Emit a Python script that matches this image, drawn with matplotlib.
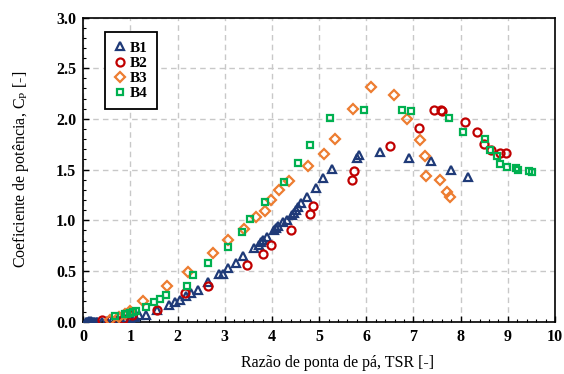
import matplotlib
matplotlib.use("Agg")
import matplotlib.pyplot as plt
from matplotlib.ticker import MultipleLocator

plt.rcParams['font.family'] = ['Liberation Serif', 'DejaVu Serif']
plt.rcParams['mathtext.fontset'] = 'custom'
plt.rcParams['mathtext.rm'] = 'Liberation Serif'

# ---- data ----
b1_x = [0.06, 0.08, 0.10, 0.12, 0.14, 0.15, 0.17, 0.18, 0.20, 0.22, 0.25, 0.28, 0.30, 0.40, 0.50,
        0.60, 0.70, 0.80, 0.90, 1.00, 1.10,
        1.18, 1.33, 1.56, 1.81, 1.94, 2.06, 2.17, 2.29, 2.44, 2.65, 2.88, 2.97, 3.06, 3.23, 3.39,
        3.62, 3.72, 3.77, 3.81, 3.89, 4.04, 4.08, 4.12, 4.23, 4.31, 4.42, 4.46, 4.50, 4.56, 4.61,
        4.74, 4.94, 5.09, 5.27, 5.81, 5.85, 6.30, 6.90, 7.38, 7.80, 8.16]
b1_y = [0.00, 0.00, 0.00, 0.01, 0.00, 0.00, 0.01, 0.00, 0.00, 0.00, 0.00, 0.00, 0.00, 0.00, 0.01,
        0.01, 0.02, 0.02, 0.03, 0.04, 0.05,
        0.07, 0.07, 0.12, 0.16, 0.19, 0.21, 0.25, 0.28, 0.31, 0.39, 0.47, 0.47, 0.53, 0.58, 0.65,
        0.73, 0.76, 0.79, 0.81, 0.84, 0.90, 0.92, 0.94, 0.98, 1.00, 1.05, 1.07, 1.10, 1.13, 1.17,
        1.23, 1.32, 1.42, 1.51, 1.61, 1.64, 1.67, 1.61, 1.58, 1.50, 1.43]

b2_x = [0.40, 0.57, 0.84, 1.03, 1.56, 2.15, 2.65, 3.48, 3.81, 3.98, 4.40, 4.80, 4.88, 5.69, 5.74,
        6.50, 7.11, 7.44, 7.58, 7.61, 8.10, 8.35, 8.50, 8.64, 8.84, 8.96]
b2_y = [0.02, 0.02, 0.03, 0.07, 0.12, 0.28, 0.35, 0.56, 0.67, 0.76, 0.90, 1.06, 1.14, 1.40, 1.49,
        1.73, 1.91, 2.09, 2.09, 2.08, 1.97, 1.87, 1.75, 1.69, 1.66, 1.66]

b3_x = [0.57, 0.76, 0.88, 0.99, 1.27, 1.77, 2.21, 2.76, 3.07, 3.41, 3.67, 3.85, 3.97, 4.15, 4.37,
        4.76, 5.11, 5.34, 5.72, 6.10, 6.58, 6.86, 7.14, 7.24, 7.26, 7.56, 7.72, 7.77]
b3_y = [0.02, 0.05, 0.08, 0.11, 0.20, 0.35, 0.49, 0.68, 0.81, 0.91, 1.03, 1.09, 1.20, 1.30, 1.39,
        1.54, 1.65, 1.80, 2.10, 2.31, 2.24, 2.00, 1.79, 1.63, 1.44, 1.40, 1.28, 1.23]

b4_x = [0.67, 0.88, 0.93, 0.99, 1.05, 1.11, 1.33, 1.49, 1.62, 1.75, 2.20, 2.32, 2.65, 3.06, 3.37,
        3.53, 3.85, 4.25, 4.56, 4.80, 5.22, 5.95, 6.75, 6.95, 7.76, 8.06, 8.51, 8.63, 8.78, 8.84,
        8.98, 9.17, 9.22, 9.44, 9.51]
b4_y = [0.06, 0.08, 0.08, 0.09, 0.10, 0.11, 0.15, 0.19, 0.22, 0.26, 0.35, 0.46, 0.58, 0.74, 0.88,
        1.01, 1.18, 1.38, 1.57, 1.74, 2.01, 2.09, 2.09, 2.08, 2.01, 1.87, 1.80, 1.69, 1.63, 1.56,
        1.53, 1.52, 1.50, 1.49, 1.48]

series = [
    ("B1", b1_x, b1_y, '^', '#1F3A78', 6.2),
    ("B2", b2_x, b2_y, 'o', '#C00000', 5.8),
    ("B3", b3_x, b3_y, 'D', '#ED7D31', 5.0),
    ("B4", b4_x, b4_y, 's', '#00B050', 4.5),
]

fig = plt.figure(figsize=(5.64, 3.74), dpi=100)
ax = fig.add_axes([0.1477, 0.1398, 0.8363, 0.8134])

for name, xs, ys, m, c, ms in series:
    ax.plot(xs, ys, linestyle='none', marker=m, markersize=ms, markerfacecolor='none',
            markeredgecolor=c, markeredgewidth=1.6, label=name, zorder=3)

ax.set_xlim(0, 10)
ax.set_ylim(0, 3.0)
ax.xaxis.set_major_locator(MultipleLocator(1))
ax.xaxis.set_minor_locator(MultipleLocator(0.2))
ax.yaxis.set_major_locator(MultipleLocator(0.5))
ax.yaxis.set_minor_locator(MultipleLocator(0.1))
ax.yaxis.set_major_formatter(matplotlib.ticker.FormatStrFormatter('%.1f'))

ax.grid(True, which='major', color='#C8C8C8', linestyle=(0, (4, 3)), linewidth=1.0, zorder=0)
ax.set_axisbelow(True)

ax.tick_params(which='both', direction='in', top=False, right=False, colors='black')
ax.tick_params(which='major', length=4, width=1, labelsize=11.5, pad=5)
ax.tick_params(which='minor', length=2.5, width=0.8)
for lab in ax.get_xticklabels() + ax.get_yticklabels():
    lab.set_fontweight('bold')

for sp in ax.spines.values():
    sp.set_linewidth(1.2)
    sp.set_color('black')

ax.set_xlabel('Razão de ponta de pá, TSR [-]', fontsize=11.5)
ax.set_ylabel(r'Coeficiente de potência, C$_{\mathrm{P}}$ [-]', fontsize=11.5)
ax.xaxis.set_label_coords(0.54, -0.11)
ax.yaxis.set_label_coords(-0.11, 0.5)

leg = ax.legend(loc='upper left', bbox_to_anchor=(0.046, 0.953), frameon=True, fancybox=False,
                edgecolor='black', handlelength=0.7, handletextpad=0.35, labelspacing=0.1,
                borderpad=0.6, borderaxespad=0, prop={'weight': 'bold', 'size': 11})
leg.get_frame().set_linewidth(1.3)
leg.get_frame().set_alpha(1)

fig.savefig('out.png', dpi=100)
